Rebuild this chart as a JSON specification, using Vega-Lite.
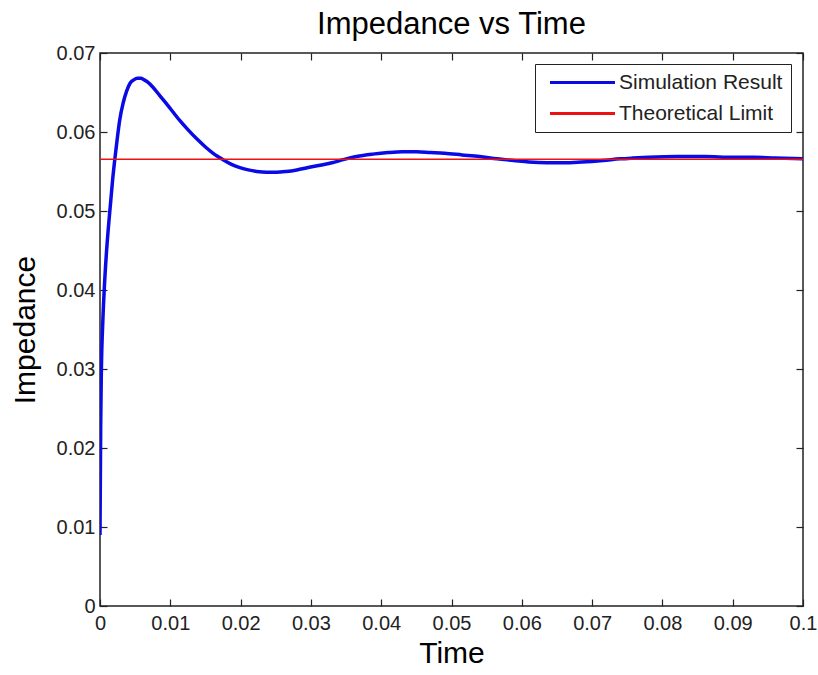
{
  "$schema": "https://vega.github.io/schema/vega-lite/v6.json",
  "width": 703,
  "height": 553,
  "autosize": {"type": "none"},
  "padding": {"left": 100, "top": 53, "right": 15, "bottom": 69},
  "background": "white",
  "title": {"text": "Impedance vs Time", "fontSize": 31, "font": "Liberation Sans", "fontWeight": "normal", "color": "black", "offset": 2, "anchor": "middle"},
  "config": {
    "font": "Liberation Sans",
    "view": {"stroke": "#222222", "strokeWidth": 1.5},
    "axis": {"domain": false, "grid": false, "ticks": true, "tickColor": "#222222", "tickSize": -7, "tickWidth": 1.2, "labelColor": "#222222", "labelFontSize": 20, "labelFont": "Liberation Sans", "titleFont": "Liberation Sans", "titleFontSize": 30, "titleFontWeight": "normal", "titleColor": "black"},
    "legend": {"labelFont": "Liberation Sans"}
  },
  "datasets": {
    "sim": [
      {"t": 0, "v": 0.0090, "series": "Simulation Result"},
      {"t": 0.00005, "v": 0.0160, "series": "Simulation Result"},
      {"t": 0.0001, "v": 0.0230, "series": "Simulation Result"},
      {"t": 0.0002, "v": 0.0300, "series": "Simulation Result"},
      {"t": 0.0004, "v": 0.0360, "series": "Simulation Result"},
      {"t": 0.0006, "v": 0.0400, "series": "Simulation Result"},
      {"t": 0.0009, "v": 0.0445, "series": "Simulation Result"},
      {"t": 0.0012, "v": 0.0480, "series": "Simulation Result"},
      {"t": 0.0015, "v": 0.0510, "series": "Simulation Result"},
      {"t": 0.0018, "v": 0.0540, "series": "Simulation Result"},
      {"t": 0.0021, "v": 0.0565, "series": "Simulation Result"},
      {"t": 0.0025, "v": 0.0595, "series": "Simulation Result"},
      {"t": 0.0028, "v": 0.0615, "series": "Simulation Result"},
      {"t": 0.0033, "v": 0.0637, "series": "Simulation Result"},
      {"t": 0.0038, "v": 0.0652, "series": "Simulation Result"},
      {"t": 0.0043, "v": 0.0662, "series": "Simulation Result"},
      {"t": 0.0048, "v": 0.0666, "series": "Simulation Result"},
      {"t": 0.0053, "v": 0.0668, "series": "Simulation Result"},
      {"t": 0.0058, "v": 0.0668, "series": "Simulation Result"},
      {"t": 0.0063, "v": 0.0666, "series": "Simulation Result"},
      {"t": 0.0068, "v": 0.0663, "series": "Simulation Result"},
      {"t": 0.0075, "v": 0.0657, "series": "Simulation Result"},
      {"t": 0.0085, "v": 0.0646, "series": "Simulation Result"},
      {"t": 0.0097, "v": 0.0633, "series": "Simulation Result"},
      {"t": 0.0105, "v": 0.0624, "series": "Simulation Result"},
      {"t": 0.0114, "v": 0.0614, "series": "Simulation Result"},
      {"t": 0.0126, "v": 0.0602, "series": "Simulation Result"},
      {"t": 0.0138, "v": 0.0591, "series": "Simulation Result"},
      {"t": 0.0150, "v": 0.0581, "series": "Simulation Result"},
      {"t": 0.0161, "v": 0.0573, "series": "Simulation Result"},
      {"t": 0.0175, "v": 0.0565, "series": "Simulation Result"},
      {"t": 0.0187, "v": 0.0559, "series": "Simulation Result"},
      {"t": 0.0199, "v": 0.0555, "series": "Simulation Result"},
      {"t": 0.0211, "v": 0.0552, "series": "Simulation Result"},
      {"t": 0.0223, "v": 0.0550, "series": "Simulation Result"},
      {"t": 0.0237, "v": 0.0549, "series": "Simulation Result"},
      {"t": 0.0251, "v": 0.0549, "series": "Simulation Result"},
      {"t": 0.0265, "v": 0.0550, "series": "Simulation Result"},
      {"t": 0.0280, "v": 0.0552, "series": "Simulation Result"},
      {"t": 0.0296, "v": 0.0555, "series": "Simulation Result"},
      {"t": 0.0313, "v": 0.0558, "series": "Simulation Result"},
      {"t": 0.0330, "v": 0.0561, "series": "Simulation Result"},
      {"t": 0.0346, "v": 0.0565, "series": "Simulation Result"},
      {"t": 0.0365, "v": 0.0569, "series": "Simulation Result"},
      {"t": 0.0388, "v": 0.0572, "series": "Simulation Result"},
      {"t": 0.0410, "v": 0.0574, "series": "Simulation Result"},
      {"t": 0.0430, "v": 0.0575, "series": "Simulation Result"},
      {"t": 0.0450, "v": 0.0575, "series": "Simulation Result"},
      {"t": 0.0470, "v": 0.0574, "series": "Simulation Result"},
      {"t": 0.0490, "v": 0.0573, "series": "Simulation Result"},
      {"t": 0.0515, "v": 0.0571, "series": "Simulation Result"},
      {"t": 0.0540, "v": 0.0569, "series": "Simulation Result"},
      {"t": 0.0565, "v": 0.0566, "series": "Simulation Result"},
      {"t": 0.0588, "v": 0.0564, "series": "Simulation Result"},
      {"t": 0.0610, "v": 0.0562, "series": "Simulation Result"},
      {"t": 0.0636, "v": 0.0561, "series": "Simulation Result"},
      {"t": 0.0660, "v": 0.0561, "series": "Simulation Result"},
      {"t": 0.0685, "v": 0.0562, "series": "Simulation Result"},
      {"t": 0.0716, "v": 0.0564, "series": "Simulation Result"},
      {"t": 0.0740, "v": 0.0566, "series": "Simulation Result"},
      {"t": 0.0758, "v": 0.0567, "series": "Simulation Result"},
      {"t": 0.0780, "v": 0.0568, "series": "Simulation Result"},
      {"t": 0.0820, "v": 0.0569, "series": "Simulation Result"},
      {"t": 0.0860, "v": 0.0569, "series": "Simulation Result"},
      {"t": 0.0900, "v": 0.0568, "series": "Simulation Result"},
      {"t": 0.0930, "v": 0.0568, "series": "Simulation Result"},
      {"t": 0.0960, "v": 0.0567, "series": "Simulation Result"},
      {"t": 0.1000, "v": 0.0566, "series": "Simulation Result"}
    ],
    "limit": [
      {"t": 0, "v": 0.05655, "series": "Theoretical Limit"},
      {"t": 0.1, "v": 0.05655, "series": "Theoretical Limit"}
    ]
  },
  "layer": [
    {
      "data": {"name": "sim"},
      "mark": {"type": "line", "strokeWidth": 3.5, "interpolate": "monotone", "clip": true},
      "encoding": {
        "x": {"field": "t", "type": "quantitative", "scale": {"domain": [0, 0.1], "nice": false, "zero": false},
              "axis": {"orient": "bottom", "values": [0, 0.01, 0.02, 0.03, 0.04, 0.05, 0.06, 0.07, 0.08, 0.09, 0.1], "format": ".2~f", "title": "Time", "labelPadding": 14, "titlePadding": 5, "labelFlush": false}},
        "y": {"field": "v", "type": "quantitative", "scale": {"domain": [0, 0.07], "nice": false, "zero": false},
              "axis": {"orient": "left", "values": [0, 0.01, 0.02, 0.03, 0.04, 0.05, 0.06, 0.07], "format": ".2~f", "title": "Impedance", "labelPadding": 12, "titlePadding": 16, "labelFlush": false}},
        "color": {"field": "series", "type": "nominal",
                  "scale": {"domain": ["Simulation Result", "Theoretical Limit"], "range": ["#0a0ae6", "#ee1111"]},
                  "legend": {"title": null, "orient": "none", "legendX": 435, "legendY": 11, "symbolType": "M-4,0H4", "symbolSize": 264, "symbolOffset": 29, "symbolStrokeWidth": 3, "labelFontSize": 21, "labelColor": "#222222", "labelOffset": 26, "rowPadding": 9, "padding": 8, "strokeColor": "#222222", "fillColor": "white", "labelLimit": 300}}
      }
    },
    {
      "data": {"name": "limit"},
      "mark": {"type": "line", "strokeWidth": 1.3},
      "encoding": {
        "x": {"field": "t", "type": "quantitative", "scale": {"domain": [0, 0.1], "nice": false, "zero": false},
              "axis": {"orient": "top", "values": [0, 0.01, 0.02, 0.03, 0.04, 0.05, 0.06, 0.07, 0.08, 0.09, 0.1], "labels": false, "title": null}},
        "y": {"field": "v", "type": "quantitative", "scale": {"domain": [0, 0.07], "nice": false, "zero": false},
              "axis": {"orient": "right", "values": [0, 0.01, 0.02, 0.03, 0.04, 0.05, 0.06, 0.07], "labels": false, "title": null}},
        "color": {"field": "series", "type": "nominal"}
      }
    }
  ],
  "resolve": {"axis": {"x": "independent", "y": "independent"}, "scale": {"x": "independent", "y": "independent"}}
}
